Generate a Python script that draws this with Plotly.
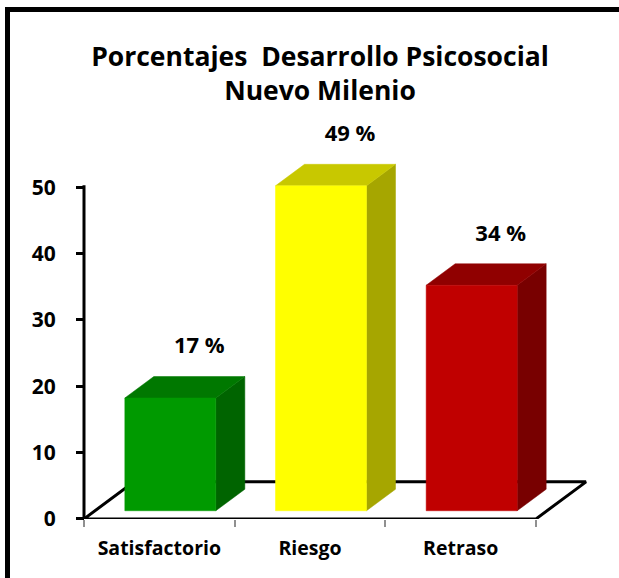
import plotly.graph_objects as go

# ---- data ----
categories = ["Satisfactorio", "Riesgo", "Retraso"]
values = [17, 49, 34]
labels = ["17 %", "49 %", "34 %"]
y_ticks = [0, 10, 20, 30, 40, 50]

front_colors = ["#009A00", "#FFFF00", "#C00000"]
top_colors = ["#007800", "#C8C800", "#900000"]
side_colors = ["#006400", "#A6A600", "#780000"]

# ---- geometry (reference-pixel layout) ----
W, H_REF = 619, 578
VS = 592 / 578            # vertical compensation of the capture
H = round(H_REF * VS)

PX_PER_CAT = 150.67
PX_PER_UNIT = 6.62        # reference px per value unit
X_LEFT_PX, X_RIGHT_PX = 40, 612
AXIS_PX = 84              # pixel of x = -0.5
Y0_PX, YTOP_PX = 518, 105

DX = 50 / PX_PER_CAT      # depth offset in x units
DY = 37 / PX_PER_UNIT     # depth offset in y units
D_FRONT, D_BACK = 0.22, 0.80
HALF_W = 0.302
FONT = "Open Sans"


def py(y_ref):
    """reference pixel row -> paper fraction of the (taller) figure"""
    return 1 - (y_ref * VS) / H


x_range = [-0.5 + (X_LEFT_PX - AXIS_PX) / PX_PER_CAT, -0.5 + (X_RIGHT_PX - AXIS_PX) / PX_PER_CAT]
y_range = [0, (Y0_PX - YTOP_PX) / PX_PER_UNIT]

fig = go.Figure()

n = len(categories)
# floor
fx = [-0.5, n - 0.5, n - 0.5 + DX, -0.5 + DX, -0.5]
fy = [0, 0, DY, DY, 0]
fig.add_trace(go.Scatter(x=fx, y=fy, mode="lines", fill="toself", fillcolor="white",
                         line=dict(color="black", width=3), hoverinfo="skip", showlegend=False))
# y axis line
fig.add_trace(go.Scatter(x=[-0.5, -0.5], y=[0, max(y_ticks) + 0.3], mode="lines",
                         line=dict(color="black", width=3), hoverinfo="skip", showlegend=False))


def poly(xs, ys, color):
    fig.add_trace(go.Scatter(x=xs + [xs[0]], y=ys + [ys[0]], mode="lines", fill="toself",
                             fillcolor=color, line=dict(color=color, width=0.5),
                             hoverinfo="skip", showlegend=False))


for i, v in enumerate(values):
    xl_f = i - HALF_W + D_FRONT * DX
    xr_f = i + HALF_W + D_FRONT * DX
    xl_b = i - HALF_W + D_BACK * DX
    xr_b = i + HALF_W + D_BACK * DX
    yb_f = D_FRONT * DY
    yb_b = D_BACK * DY
    yt_f = v + yb_f
    yt_b = v + yb_b
    # side face
    poly([xr_f, xr_b, xr_b, xr_f], [yb_f, yb_b, yt_b, yt_f], side_colors[i])
    # top face
    poly([xl_f, xr_f, xr_b, xl_b], [yt_f, yt_f, yt_b, yt_b], top_colors[i])
    # front face
    poly([xl_f, xr_f, xr_f, xl_f], [yb_f, yb_f, yt_f, yt_f], front_colors[i])

# value labels
fig.add_trace(go.Scatter(
    x=[i + D_BACK * DX for i in range(n)],
    y=[v + D_BACK * DY + 4.3 for v in values],
    mode="text", text=labels, textposition="middle center",
    textfont=dict(family=FONT, size=22, color="black", weight="bold"),
    cliponaxis=False, hoverinfo="skip", showlegend=False))

fig.update_layout(
    width=W, height=H,
    margin=dict(l=0, r=0, t=0, b=0),
    paper_bgcolor="white", plot_bgcolor="rgba(0,0,0,0)",
    font=dict(family=FONT, color="black"),
    title=dict(text="<b>Porcentajes\u00a0\u00a0Desarrollo Psicosocial<br>Nuevo Milenio</b>",
               x=320 / W, xanchor="center", y=py(64), yanchor="middle", yref="container",
               font=dict(family=FONT, size=26.5, color="black")),
    xaxis=dict(domain=[X_LEFT_PX / W, X_RIGHT_PX / W], range=x_range,
               tickvals=list(range(n)), ticktext=categories, ticks="",
               tickfont=dict(family=FONT, size=19.5, color="black", weight="bold"),
               ticklabelstandoff=16,
               minor=dict(tickvals=[k - 0.5 for k in range(n + 1)], ticks="outside",
                          ticklen=7, tickwidth=2, tickcolor="#909090"),
               showgrid=False, zeroline=False, showline=False, fixedrange=True),
    yaxis=dict(domain=[py(Y0_PX), py(YTOP_PX)], range=y_range,
               anchor="free", position=AXIS_PX / W,
               tickvals=y_ticks, ticks="outside", ticklen=8, tickwidth=3, tickcolor="black",
               tickfont=dict(family=FONT, size=21, color="black", weight="bold"),
               ticklabelstandoff=16,
               showgrid=False, zeroline=False, showline=False, fixedrange=True),
    shapes=[dict(type="rect", xref="paper", yref="paper",
                 x0=7.5 / W, x1=1.03, y0=-0.03, y1=py(9.5),
                 line=dict(color="black", width=5), fillcolor="rgba(0,0,0,0)", layer="above")],
)

fig.write_html(
    "out.html",
    config={"displayModeBar": False, "staticPlot": True},
    post_script="document.body.style.margin='0';"
                "document.body.style.overflow='hidden';"
                "document.documentElement.style.overflow='hidden';",
)
